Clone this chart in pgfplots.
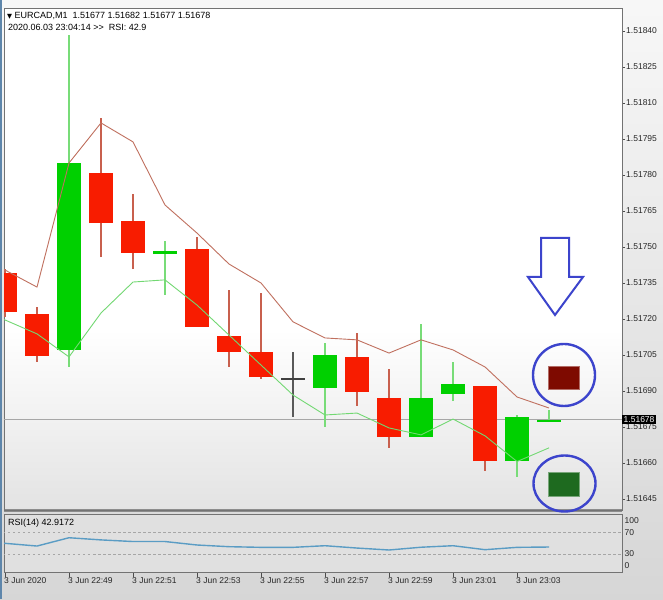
\documentclass[border=0pt]{standalone}
\usepackage{pgfplots}
\usepackage{pgfplotstable}
\pgfplotsset{compat=1.18}
\usepackage{fontspec}
\setmainfont{Liberation Sans}
\newfontfamily\symfont{DejaVu Sans}

\definecolor{candleRed}{HTML}{F81C00}
\definecolor{wickRed}{HTML}{C8604E}
\definecolor{candleGreen}{HTML}{00D000}
\definecolor{wickGreen}{HTML}{78DC78}
\definecolor{maRed}{HTML}{C0705F}
\definecolor{maGreen}{HTML}{72D872}
\definecolor{rsiBlue}{HTML}{5A9CC4}
\definecolor{annBlue}{HTML}{3C44CC}
\definecolor{boxRed}{HTML}{7E0A00}
\definecolor{boxGreen}{HTML}{1E6A1F}
\definecolor{frameBlue}{HTML}{5E86AB}

% prices in points above 1.51000 (1 point = 0.00001)
% x = minute index, 0 = 22:47
\pgfplotstableread{
x o h l c
0 739.2 741.0 721.0 722.9
1 722.1 725.0 702.1 704.6
3 780.8 803.8 745.8 760.0
4 760.8 772.1 740.8 747.5
6 749.2 754.2 716.7 716.7
7 712.9 732.1 700.0 706.3
8 706.3 730.8 695.0 695.8
11 704.2 714.2 683.8 689.6
12 687.1 699.2 666.3 670.8
15 692.1 692.1 656.7 660.8
}\redc

\pgfplotstableread{
x o h l c
2 707.1 838.3 700.0 785.0
5 747.0 752.5 730.0 748.2
10 691.3 710.0 675.0 705.0
13 670.8 717.9 670.8 687.1
14 688.8 702.1 685.8 692.9
16 660.8 680.0 654.2 679.2
17 677.0 682.0 677.0 678.0
}\greenc

\pgfplotstableread{
x o h l c
9 695.0 706.3 679.2 695.0
}\dojic

\pgfplotstableread{
x up lo rsi
-1 745.8 725.0 50.0
0 740.4 719.6 49.7
1 733.3 713.8 44.7
2 785.0 704.2 60.0
3 801.7 722.5 56.0
4 793.8 735.4 53.0
5 767.5 736.3 53.0
6 755.8 725.8 46.6
7 742.9 713.3 43.5
8 735.0 700.8 42.3
9 718.8 688.3 42.3
10 712.1 680.0 45.3
11 711.3 680.8 41.0
12 705.8 674.6 37.4
13 711.3 671.7 42.5
14 707.1 678.3 45.3
15 700.0 671.3 38.0
16 687.5 660.6 42.3
17 682.9 666.3 42.9
}\lines

\pgfplotsset{
  candle/.style 2 args={draw=none, mark=none, forget plot,
    error bars/.cd, y dir=plus, y explicit, error mark=none,
    error bar style={draw=#1, line width=#2}},
}

\begin{document}
\begin{tikzpicture}
\path[use as bounding box] (0,0) rectangle (663pt,599pt);
% window background
\shade[top color=black!3, bottom color=black!16] (0,0) rectangle (663pt,599pt);
\fill[white] (4pt,89pt) rectangle (622pt,591pt);
\shade[top color=white, bottom color=black!11] (4pt,89pt) rectangle (622pt,270pt);
\fill[black!12] (4pt,27pt) rectangle (622pt,85pt);
\fill[black!45] (4pt,86.5pt) rectangle (622pt,89.5pt);
\fill[frameBlue] (0,0) rectangle (1.5pt,599pt);

\begin{axis}[
  at={(4pt,89pt)}, anchor=south west, scale only axis,
  width=618pt, height=502pt,
  xmin=-0.03125, xmax=19.28, ymin=640.4, ymax=849.6,
  axis line style={draw=black!55, line width=0.8pt},
  xtick=\empty,
  ytick={645,660,675,690,705,720,735,750,765,780,795,810,825,840},
  yticklabels={1.51645,1.51660,1.51675,1.51690,1.51705,1.51720,1.51735,1.51750,1.51765,1.51780,1.51795,1.51810,1.51825,1.51840},
  ytick pos=right, yticklabel pos=right,
  tick align=outside, major tick length=3pt,
  tick style={black!70, line width=0.6pt},
  yticklabel style={font=\fontsize{8.5}{10}\selectfont, text=black!85, anchor=west, inner xsep=1pt},
]
% current price line
\addplot[black!35, line width=0.8pt] coordinates {(-1,678) (20,678)};
% wicks
\addplot[candle={wickRed}{1.3pt}] table[x=x, y=l, y error expr=\thisrow{h}-\thisrow{l}] {\redc};
\addplot[candle={wickGreen}{1.3pt}] table[x=x, y=l, y error expr=\thisrow{h}-\thisrow{l}] {\greenc};
\addplot[candle={black!65}{1.3pt}] table[x=x, y=l, y error expr=\thisrow{h}-\thisrow{l}] {\dojic};
% bodies
\addplot[candle={candleRed}{24pt}] table[x=x, y=c, y error expr=\thisrow{o}-\thisrow{c}] {\redc};
\addplot[candle={candleGreen}{24pt}] table[x=x, y=o, y error expr=\thisrow{c}-\thisrow{o}] {\greenc};
\addplot[candle={black!75}{24pt}] table[x=x, y expr=\thisrow{o}-0.25, y error expr=0.5] {\dojic};
% envelope lines
\addplot[maRed, line width=0.9pt] table[x=x, y=up] {\lines};
\addplot[maGreen, line width=0.9pt] table[x=x, y=lo] {\lines};
\end{axis}

\begin{axis}[
  at={(4pt,27pt)}, anchor=south west, scale only axis,
  width=618pt, height=58pt,
  xmin=-0.03125, xmax=19.28, ymin=-3.1, ymax=103.7,
  axis line style={draw=black!55, line width=0.8pt},
  xtick={0,2,4,6,8,10,12,14,16},
  xticklabels={3 Jun 2020,3 Jun 22:49,3 Jun 22:51,3 Jun 22:53,3 Jun 22:55,3 Jun 22:57,3 Jun 22:59,3 Jun 23:01,3 Jun 23:03},
  xtick pos=bottom, tick align=outside, major tick length=4.5pt,
  xtick style={black!70, line width=0.6pt},
  xticklabel style={font=\fontsize{8.5}{10}\selectfont, text=black!85, anchor=north west, xshift=-2pt, inner sep=1pt},
  ytick={9.2,30,69.3,90.8}, yticklabels={0,30,70,100},
  ytick pos=right, yticklabel pos=right, ytick style={draw=none},
  yticklabel style={font=\fontsize{8.5}{10}\selectfont, text=black!85, anchor=west, inner xsep=1pt, xshift=-3pt},
]
\addplot[black!35, dash pattern=on 2.5pt off 2.5pt, line width=0.6pt] coordinates {(-1,70) (20,70)};
\addplot[black!35, dash pattern=on 2.5pt off 2.5pt, line width=0.6pt] coordinates {(-1,30) (20,30)};
\addplot[rsiBlue, line width=1.4pt] table[x=x, y=rsi] {\lines};
\end{axis}

% header texts
\node[anchor=west, font=\fontsize{9}{10}\selectfont, inner sep=0pt] at (7pt,583pt)
  {{\symfont\fontsize{6.5}{7}\selectfont ▼}\ EURCAD,M1\ \ 1.51677 1.51682 1.51677 1.51678};
\node[anchor=west, font=\fontsize{9}{10}\selectfont, inner sep=0pt] at (8pt,572pt)
  {2020.06.03 23:04:14 >{}> \ RSI: 42.9};
\node[anchor=west, font=\fontsize{9}{10}\selectfont, inner sep=0pt] at (8pt,76pt)
  {RSI(14) 42.9172};
% current price tag
\node[anchor=west, fill=black, text=white, font=\fontsize{8.5}{10}\selectfont,
  inner xsep=1.5pt, inner ysep=0.8pt, text height=6.3pt, text depth=0.4pt] at (622pt,179.5pt) {1.51678};

% annotations
\draw[annBlue, line width=2pt, line join=miter]
  (541pt,361pt) -- (569pt,361pt) -- (569pt,322pt) -- (583pt,322pt)
  -- (555pt,284pt) -- (528pt,322pt) -- (541pt,322pt) -- cycle;
\fill[boxRed, draw=boxRed!60!white, line width=0.6pt] (548pt,210pt) rectangle (579pt,233pt);
\draw[annBlue, line width=2.4pt] (564pt,224pt) ellipse [x radius=31pt, y radius=31pt];
\fill[boxGreen, draw=boxGreen!60!white, line width=0.6pt] (548pt,103pt) rectangle (579pt,127pt);
\draw[annBlue, line width=2.4pt] (564.5pt,115.5pt) ellipse [x radius=31pt, y radius=28pt];
\end{tikzpicture}
\end{document}
